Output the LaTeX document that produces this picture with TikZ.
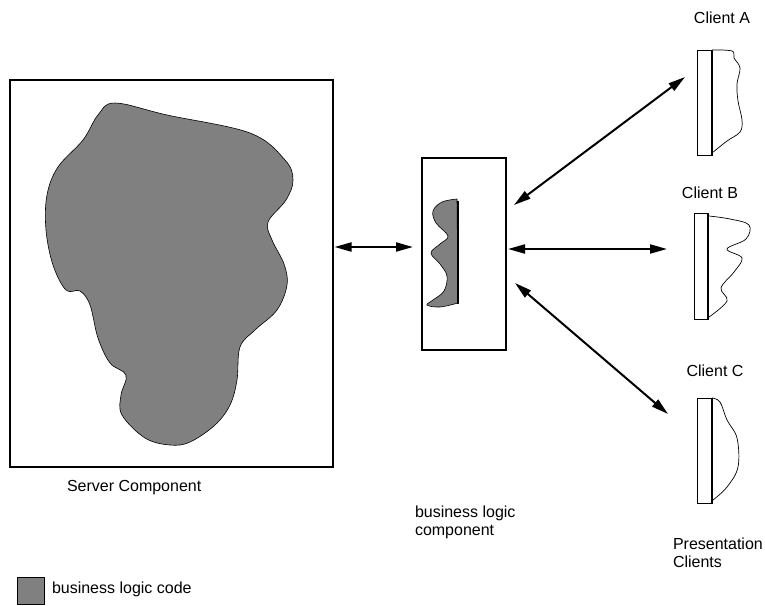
\documentclass[tikz,border=0pt]{standalone}
\usepackage{fontspec}
\setmainfont{Liberation Sans}
\usetikzlibrary{arrows.meta}
\definecolor{codegray}{HTML}{808080}
\begin{document}
\begin{tikzpicture}[x=1pt,y=-1pt,
  every node/.style={inner sep=0pt,outer sep=0pt},
  lbl/.style={font=\fontsize{16}{17.5}\selectfont,align=left},
  bigbox/.style={draw,line width=2.6pt,rectangle},
  link/.style={line width=2pt,{Triangle[length=17pt,width=9pt]}-{Triangle[length=17pt,width=9pt]}},
  blob/.style={fill=codegray,draw=black,line width=0.6pt},
  screen/.style={draw,line width=0.8pt,rectangle,fill=white},
  bezel/.style={line width=2.6pt},
  edge/.style={line width=0.7pt}]
\useasboundingbox (0,0) rectangle (765,605);

% server component with its lump of business logic
\node[bigbox,minimum width=323pt,minimum height=387pt] (server) at (171.5,273.5) {};
\path[blob] plot[smooth cycle,tension=0.6] coordinates {
  (115,103) (167,115) (250,133) (285,160) (293,180) (286,200) (268,222)
  (272,240) (284,264) (287,285) (277,310) (255,330) (240,347) (237,380)
  (230,405) (215,425) (190,442) (170,445) (145,438) (122,415) (121,395)
  (126,375) (110,363) (98,338) (90,305) (80,291) (66,290) (53,265)
  (46,230) (47,195) (58,167) (83,140) (98,115)};

% business logic component
\node[bigbox,line width=2.2pt,minimum width=84pt,minimum height=192pt] (mid) at (464,254) {};
\path[blob] plot[smooth,tension=0.6] coordinates {
  (457,199) (442,202) (433,211) (436,223) (448,236) (440,244) (431,253)
  (440,264) (447,276) (444,291) (433,300) (427,305) (440,307) (458,303)} -- cycle;
\draw[bezel] (458,201) -- (458,304);

% presentation clients
\node[screen,minimum width=15pt,minimum height=105pt] (clientA) at (704.5,102.5) {};
\draw[edge] plot[smooth,tension=0.6] coordinates {
  (712,50) (732,51) (734,58) (740,68) (737,84) (738,101) (742,120) (740,132) (727,141) (712,153)};
\draw[bezel] (712,50) -- (712,155);

\node[screen,minimum width=14pt,minimum height=106pt] (clientB) at (701,266) {};
\draw[edge] plot[smooth,tension=0.6] coordinates {
  (709,216) (730,219) (749,225) (746,239) (727,249) (742,258) (734,272) (721,288) (727,301) (709,317)};
\draw[bezel] (708,214) -- (708,319);

\node[screen,minimum width=15pt,minimum height=105pt] (clientC) at (704.5,450.5) {};
\draw[edge] plot[smooth,tension=0.6] coordinates {
  (712,398) (720,402) (727,420) (737,438) (738,467) (727,487) (713,500)};
\draw[bezel] (712,398) -- (712,503);

% connector end points
\coordinate (sR) at (334.5,247);
\coordinate (mL) at (413,247);
\coordinate (mA) at (514,205);
\coordinate (mB) at (508,249);
\coordinate (mC) at (515,283);
\coordinate (cA) at (685,77);
\coordinate (cB) at (667,249);
\coordinate (cC) at (668,414);
\draw[link] (sR) -- (mL);
\draw[link] (mA) -- (cA);
\draw[link] (mB) -- (cB);
\draw[link] (mC) -- (cC);

% labels (base anchor of a two-line label sits on its last line)
\node[lbl,anchor=south] (labA) at (722,24) {Client A};
\node[lbl,anchor=south] (labB) at (710,199) {Client B};
\node[lbl,anchor=south] (labC) at (715,377) {Client C};
\node[lbl,anchor=base west] (labS) at (67,491) {Server Component};
\node[lbl,anchor=base west] (labM) at (415,535) {business logic\\component};
\node[lbl,anchor=base west] (labP) at (673,567) {Presentation\\Clients};

% legend
\node[blob,rectangle,minimum width=27pt,minimum height=27pt] (key) at (30.5,590.5) {};
\node[lbl,anchor=west] (keytext) at (52,589) {business logic code};
\end{tikzpicture}
\end{document}
